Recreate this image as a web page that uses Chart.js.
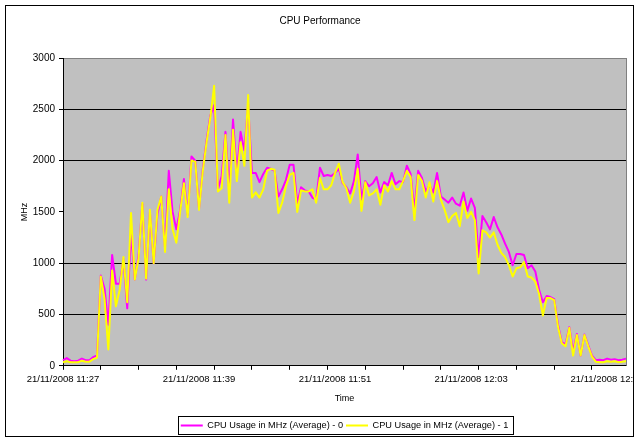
<!DOCTYPE html>
<html>
<head>
<meta charset="utf-8">
<title>CPU Performance</title>
<script src="https://cdn.jsdelivr.net/npm/chart.js@4.4.0/dist/chart.umd.min.js"></script>
<style>
  html, body { margin: 0; padding: 0; background: #fff; }
</style>
</head>
<body>
<canvas id="cpuChart" width="640" height="442"></canvas>
<script>
// Samples every 20 seconds starting 21/11/2008 11:27:00
const times = [];
for (let i = 0; i < 150; i++) {
    const secs = i * 20;
    const mins = 11 * 60 + 27 + Math.floor(secs / 60);
    const pad = n => String(n).padStart(2, '0');
    times.push('21/11/2008 ' + pad(Math.floor(mins / 60)) + ':' + pad(mins % 60) + ':' + pad(secs % 60));
}

// CPU Usage in MHz (Average) - 0
const cpu0 = [
    55, 75, 50, 45, 50, 70, 55, 55, 85, 100,
    880, 750, 400, 1080, 800, 800, 1040, 560, 1300, 840,
    1080, 1580, 840, 1500, 1000, 1480, 1650, 1150, 1900, 1500,
    1330, 1520, 1820, 1470, 2040, 2000, 1530, 1920, 2200, 2440,
    2540, 1720, 1850, 2280, 1700, 2400, 1870, 2280, 2100, 2550,
    1880, 1880, 1790, 1870, 1930, 1920, 1900, 1650, 1720, 1810,
    1960, 1960, 1580, 1740, 1710, 1700, 1640, 1620, 1930, 1850,
    1860, 1850, 1880, 1920, 1780, 1740, 1680, 1800, 2060, 1620,
    1800, 1750, 1780, 1840, 1690, 1790, 1760, 1880, 1770, 1800,
    1790, 1950, 1870, 1520, 1900, 1830, 1700, 1760, 1690, 1880,
    1650, 1620, 1590, 1640, 1580, 1560, 1690, 1510, 1630, 1540,
    1060, 1460, 1400, 1330, 1450, 1350, 1280, 1190, 1110, 980,
    1090, 1090, 1080, 950, 980, 920, 740, 620, 680, 670,
    650, 400, 230, 210, 377, 140, 310, 100, 305, 200,
    100, 55, 60, 55, 70, 60, 65, 55, 60, 70
];

// CPU Usage in MHz (Average) - 1
const cpu1 = [
    35, 45, 35, 35, 35, 50, 40, 40, 65, 80,
    870, 650, 160, 930, 580, 740, 1060, 620, 1490, 840,
    1050, 1590, 850, 1520, 1000, 1520, 1650, 1110, 1720, 1330,
    1200, 1500, 1780, 1450, 2000, 1990, 1520, 1900, 2180, 2420,
    2730, 1700, 1730, 2250, 1590, 2300, 1800, 2180, 1950, 2640,
    1640, 1690, 1640, 1720, 1900, 1920, 1910, 1490, 1590, 1750,
    1860, 1880, 1500, 1710, 1700, 1700, 1720, 1590, 1830, 1720,
    1720, 1760, 1880, 1970, 1790, 1730, 1590, 1700, 1920, 1510,
    1790, 1660, 1680, 1720, 1570, 1760, 1700, 1800, 1720, 1720,
    1800, 1900, 1840, 1420, 1860, 1800, 1640, 1790, 1600, 1800,
    1620, 1520, 1400, 1460, 1490, 1360, 1600, 1440, 1500, 1420,
    900, 1320, 1300, 1250, 1300, 1180, 1100, 1060, 980, 870,
    950, 960, 1010, 870, 860, 820, 700, 490, 660, 660,
    640, 380, 220, 190, 370, 100, 300, 100, 300, 190,
    90, 40, 35, 35, 45, 40, 45, 35, 40, 45
];

const seriesNames = ['CPU Usage in MHz (Average) - 0', 'CPU Usage in MHz (Average) - 1'];
const yMax = 3000;
const yStep = 500;
const labelEvery = 36;   // one date label every 12 minutes
const tickEvery = 10;    // tick marks every 10 samples

const font = 'Liberation Sans, Arial, sans-serif';

// Excel-ish chrome: grey plot area, frames, legend box
const excelChrome = {
    id: 'excelChrome',
    afterLayout(chart) {
        const a = chart.chartArea;
        const lg = chart.legend;
        const dx = (a.left + a.right) / 2 - (lg.left + lg.right) / 2;
        lg.left += dx; lg.right += dx;
        const tb = chart.titleBlock;
        const tx = chart.width / 2 - (tb.left + tb.right) / 2;
        tb.left += tx; tb.right += tx;
    },
    beforeDraw(chart) {
        const { ctx, chartArea: a } = chart;
        ctx.save();
        ctx.fillStyle = '#fff';
        ctx.fillRect(0, 0, chart.width, chart.height);
        ctx.fillStyle = '#c0c0c0';
        ctx.fillRect(a.left, a.top, a.right - a.left, a.bottom - a.top);
        ctx.restore();
    },
    afterDraw(chart) {
        const { ctx, chartArea: a } = chart;
        ctx.save();
        // right edge of plot area
        ctx.strokeStyle = '#808080';
        ctx.lineWidth = 1;
        ctx.beginPath();
        ctx.moveTo(Math.round(a.right) + 0.5, a.top);
        ctx.lineTo(Math.round(a.right) + 0.5, a.bottom);
        ctx.stroke();
        // white out anything outside the chart frame
        ctx.fillStyle = '#fff';
        ctx.fillRect(634, 0, chart.width - 634, chart.height);
        // outer chart frame
        ctx.strokeStyle = '#000';
        ctx.strokeRect(5.5, 5.5, 628, 431);
        // legend frame
        const boxes = chart.legend.legendHitBoxes;
        if (boxes.length) {
            const l = Math.min(...boxes.map(b => b.left)) - 3;
            const r = Math.max(...boxes.map(b => b.left + b.width)) + 5;
            const t = Math.min(...boxes.map(b => b.top)) - 5;
            const btm = Math.max(...boxes.map(b => b.top + b.height)) + 4;
            ctx.strokeRect(Math.round(l) + 0.5, Math.round(t) + 0.5, Math.round(r - l), Math.round(btm - t));
        }
        ctx.restore();
    }
};

new Chart(document.getElementById('cpuChart'), {
    type: 'line',
    data: {
        labels: times,
        datasets: [{
            label: seriesNames[0],
            data: cpu0,
            borderColor: '#ff00ff',
            backgroundColor: '#ff00ff',
            borderWidth: 2,
            pointRadius: 0,
            borderJoinStyle: 'round',
            order: 1
        }, {
            label: seriesNames[1],
            data: cpu1,
            borderColor: '#ffff00',
            backgroundColor: '#ffff00',
            borderWidth: 2,
            pointRadius: 0,
            borderJoinStyle: 'round',
            order: 0
        }]
    },
    options: {
        responsive: false,
        animation: false,
        layout: { padding: { top: 0, left: 0, right: 14, bottom: 2 } },
        scales: {
            x: {
                afterFit: s => { s.height = 52; },
                grid: {
                    drawOnChartArea: false,
                    drawTicks: true,
                    tickLength: 4,
                    tickColor: ctx => ctx.index % tickEvery === 0 ? '#000' : 'rgba(0,0,0,0)'
                },
                border: { color: '#000', width: 1 },
                ticks: {
                    autoSkip: false,
                    maxRotation: 0,
                    minRotation: 0,
                    padding: 4,
                    color: '#000',
                    font: { family: font, size: 9.5 },
                    callback: function (val, i) {
                        return i % labelEvery === 0 ? this.getLabelForValue(val).slice(0, 16) : '';
                    }
                },
                title: {
                    display: true,
                    text: 'Time',
                    color: '#000',
                    font: { family: font, size: 9 },
                    padding: { top: 0, bottom: 14 }
                }
            },
            y: {
                min: 0,
                max: yMax,
                afterFit: s => { s.width = 63; },
                grid: {
                    color: ctx => {
                        const v = ctx.tick && ctx.tick.value;
                        if (v === 1500) return 'rgba(0,0,0,0)';
                        if (v === yMax) return '#808080';
                        return '#000';
                    },
                    tickColor: '#000',
                    tickLength: 4,
                    lineWidth: 1
                },
                border: { color: '#000', width: 1 },
                ticks: {
                    stepSize: yStep,
                    padding: 4,
                    color: '#000',
                    font: { family: font, size: 10 },
                    callback: v => String(v)
                },
                title: {
                    display: true,
                    text: 'MHz',
                    color: '#000',
                    font: { family: font, size: 9 },
                    padding: { top: 19, bottom: 0 }
                }
            }
        },
        plugins: {
            title: {
                display: true,
                text: 'CPU Performance',
                color: '#000',
                font: { family: font, size: 10, weight: 'normal' },
                padding: { top: 15, bottom: 31 }
            },
            legend: {
                position: 'bottom',
                labels: {
                    usePointStyle: true,
                    pointStyle: 'line',
                    pointStyleWidth: 22,
                    padding: 3,
                    color: '#000',
                    font: { family: font, size: 9.2 },
                    sort: (a, b) => a.datasetIndex - b.datasetIndex
                }
            },
            tooltip: { enabled: false }
        }
    },
    plugins: [excelChrome]
});
</script>
</body>
</html>
